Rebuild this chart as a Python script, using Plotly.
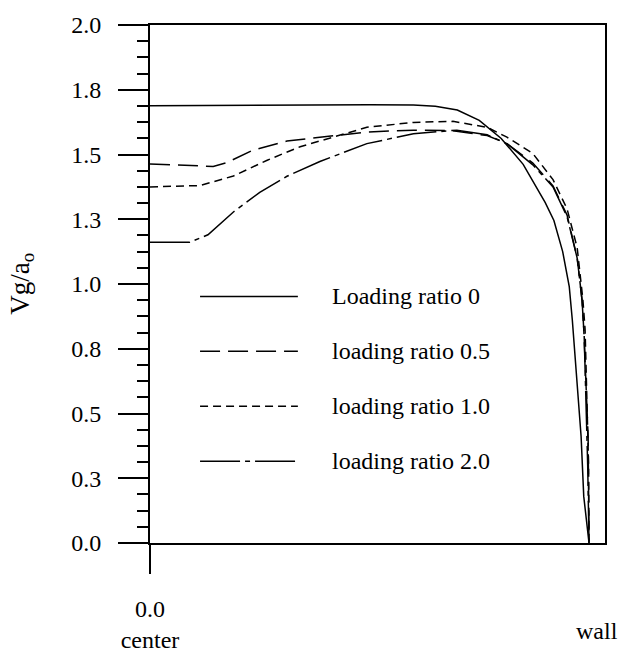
import plotly.graph_objects as go

# ---- data (x: r/R from center (0) to wall (1); y: Vg/ao) ----
x_r0 = [0, 0.1, 0.2, 0.3, 0.4, 0.5, 0.6, 0.65, 0.7, 0.75, 0.8, 0.85, 0.9, 0.92, 0.94, 0.955, 0.962, 0.972, 0.982, 0.988, 1.0]
y_r0 = [1.688, 1.689, 1.690, 1.691, 1.692, 1.692, 1.691, 1.686, 1.672, 1.632, 1.562, 1.462, 1.315, 1.245, 1.125, 0.99, 0.86, 0.64, 0.41, 0.18, 0.0]

x_r05 = [0, 0.07, 0.144, 0.175, 0.235, 0.312, 0.387, 0.494, 0.6, 0.69, 0.768, 0.813, 0.872, 0.918, 0.95, 0.973, 0.984, 0.988, 0.998, 1.0]
y_r05 = [1.463, 1.460, 1.454, 1.469, 1.517, 1.552, 1.567, 1.587, 1.594, 1.592, 1.573, 1.542, 1.467, 1.379, 1.266, 1.101, 0.939, 0.826, 0.41, 0.0]

x_r10 = [0, 0.114, 0.19, 0.267, 0.342, 0.387, 0.494, 0.6, 0.69, 0.768, 0.813, 0.872, 0.918, 0.95, 0.973, 0.986, 0.991, 0.999, 1.0]
y_r10 = [1.375, 1.380, 1.417, 1.478, 1.530, 1.553, 1.605, 1.624, 1.628, 1.605, 1.567, 1.504, 1.403, 1.290, 1.140, 0.940, 0.826, 0.30, 0.0]

x_r20 = [0, 0.09, 0.132, 0.19, 0.25, 0.312, 0.387, 0.494, 0.6, 0.699, 0.768, 0.813, 0.872, 0.918, 0.95, 0.973, 0.984, 0.989, 0.997, 1.0]
y_r20 = [1.161, 1.161, 1.190, 1.278, 1.354, 1.416, 1.473, 1.542, 1.580, 1.594, 1.576, 1.542, 1.460, 1.375, 1.260, 1.100, 0.940, 0.80, 0.30, 0.0]

series_names = ["Loading ratio 0", "loading ratio 0.5", "loading ratio 1.0", "loading ratio 2.0"]
y_tick_vals = [0, 0.25, 0.5, 0.75, 1.0, 1.25, 1.5, 1.75, 2.0]
y_tick_text = ["0.0", "0.3", "0.5", "0.8", "1.0", "1.3", "1.5", "1.8", "2.0"]
x_tick_vals = [0]
x_tick_text = ["0.0<br>center"]

FONT = "Liberation Serif, Times New Roman, serif"
FS = 24
dashes = ["solid", "20px,8px", "8px,5px", "40px,5px,5px,5px"]
series = [(x_r0, y_r0), (x_r05, y_r05), (x_r10, y_r10), (x_r20, y_r20)]

fig = go.Figure()
for (xs, ys), name, d in zip(series, series_names, dashes):
    fig.add_trace(go.Scatter(x=xs, y=ys, mode="lines", name=name, showlegend=False,
                             line=dict(color="black", width=1.5, dash=d)))

# manual legend
leg_y = [0.476, 0.370, 0.264, 0.158]
for name, d, ly in zip(series_names, dashes, leg_y):
    fig.add_shape(type="line", xref="paper", yref="paper", x0=0.110, x1=0.325, y0=ly, y1=ly,
                  line=dict(color="black", width=1.5, dash=d))
    fig.add_annotation(xref="paper", yref="paper", x=0.396, y=ly, text=name, showarrow=False,
                       xanchor="left", yanchor="middle", font=dict(family=FONT, size=FS, color="black"))

fig.add_annotation(xref="paper", yref="paper", x=0.982, y=-0.17, text="wall", showarrow=False,
                   xanchor="center", yanchor="middle", font=dict(family=FONT, size=FS, color="black"))
fig.add_annotation(xref="paper", yref="paper", x=-0.282, y=0.5, text="Vg/a<sub>o</sub>", showarrow=False,
                   textangle=-90, xanchor="center", yanchor="middle",
                   font=dict(family=FONT, size=27, color="black"))

fig.update_layout(
    width=625, height=665,
    margin=dict(l=150, r=20, t=19, b=116),
    paper_bgcolor="white", plot_bgcolor="white",
    font=dict(family=FONT, size=FS, color="black"),
    xaxis=dict(range=[0, 1.0364], tickvals=x_tick_vals, ticktext=x_tick_text,
               ticks="outside", ticklen=29, tickwidth=2, tickcolor="black",
               showline=True, linecolor="black", linewidth=2, mirror=True,
               showgrid=False, zeroline=False, ticklabelstandoff=14),
    yaxis=dict(range=[0, 2.0], tickvals=y_tick_vals, ticktext=y_tick_text,
               ticks="outside", ticklen=30, tickwidth=2, tickcolor="black",
               minor=dict(ticks="outside", ticklen=11, tickwidth=1.5, tickcolor="black",
                          tick0=0, dtick=0.0625),
               showline=True, linecolor="black", linewidth=2, mirror=True,
               showgrid=False, zeroline=False, ticklabelstandoff=12),
)

fig.write_html("out.html")
